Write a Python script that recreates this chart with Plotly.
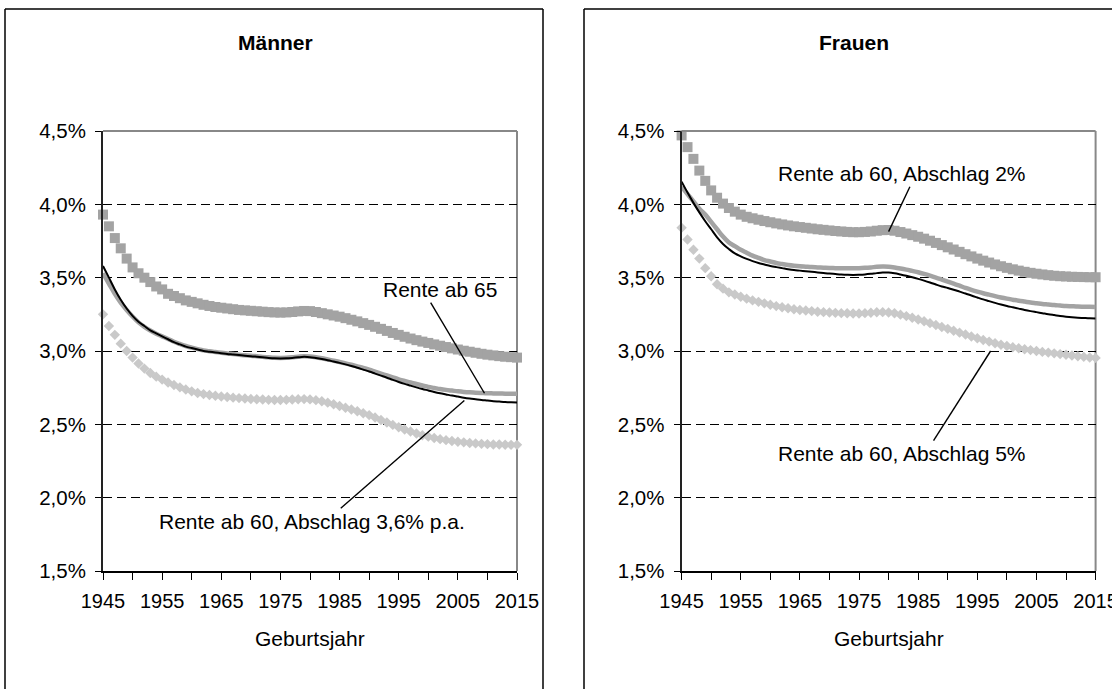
import plotly.graph_objects as go

W, H = 1112, 689

years = list(range(1945, 2016))

# ---- Männer ----
m_squares = [3.93, 3.85, 3.77, 3.70, 3.63, 3.57, 3.53, 3.50, 3.47, 3.44,
             3.42, 3.39, 3.375, 3.36, 3.345, 3.335, 3.325, 3.315, 3.307, 3.30,
             3.295, 3.29, 3.285, 3.28, 3.277, 3.274, 3.271, 3.268, 3.265, 3.263,
             3.262, 3.263, 3.266, 3.27, 3.273, 3.272, 3.266, 3.258, 3.25, 3.242,
             3.234, 3.224, 3.213, 3.202, 3.19, 3.178, 3.165, 3.151, 3.137, 3.123,
             3.11, 3.097, 3.085, 3.074, 3.064, 3.055, 3.045, 3.036, 3.027, 3.018,
             3.01, 3.002, 2.995, 2.988, 2.981, 2.975, 2.97, 2.965, 2.961, 2.958,
             2.955]
m_gray = [3.53, 3.46, 3.39, 3.33, 3.28, 3.235, 3.195, 3.165, 3.14, 3.118,
          3.10, 3.082, 3.063, 3.048, 3.034, 3.023, 3.013, 3.004, 2.998, 2.993,
          2.988, 2.983, 2.979, 2.975, 2.971, 2.968, 2.964, 2.96, 2.957, 2.954,
          2.953, 2.954, 2.957, 2.961, 2.964, 2.962, 2.957, 2.95, 2.942, 2.934,
          2.925, 2.916, 2.906, 2.895, 2.884, 2.872, 2.859, 2.846, 2.833, 2.82,
          2.807, 2.796, 2.785, 2.775, 2.765, 2.755, 2.748, 2.741, 2.735, 2.73,
          2.725, 2.721, 2.718, 2.716, 2.714, 2.712, 2.711, 2.71, 2.709, 2.708,
          2.708]
m_black = [3.58, 3.50, 3.42, 3.35, 3.29, 3.24, 3.20, 3.17, 3.14, 3.12,
           3.10, 3.08, 3.06, 3.045, 3.03, 3.02, 3.01, 3.00, 2.995, 2.99,
           2.985, 2.98, 2.976, 2.972, 2.968, 2.965, 2.961, 2.957, 2.953, 2.95,
           2.949, 2.95, 2.953, 2.957, 2.96, 2.958, 2.952, 2.945, 2.937, 2.928,
           2.919, 2.909, 2.898, 2.886, 2.873, 2.86, 2.846, 2.832, 2.818, 2.803,
           2.789, 2.776, 2.764, 2.752, 2.741, 2.731, 2.721, 2.712, 2.704, 2.696,
           2.689, 2.682, 2.676, 2.671, 2.666, 2.662, 2.658, 2.655, 2.652, 2.65,
           2.649]
m_diamonds = [3.25, 3.17, 3.11, 3.05, 3.00, 2.955, 2.915, 2.88, 2.85, 2.825,
              2.805, 2.785, 2.768, 2.752, 2.738, 2.725, 2.714, 2.706, 2.70, 2.695,
              2.69, 2.686, 2.682, 2.679, 2.676, 2.673, 2.671, 2.669, 2.667, 2.666,
              2.666, 2.667, 2.669, 2.671, 2.672, 2.67, 2.665, 2.657, 2.648, 2.637,
              2.625, 2.613, 2.601, 2.589, 2.576, 2.563, 2.547, 2.53, 2.513, 2.496,
              2.48, 2.465, 2.451, 2.438, 2.426, 2.416, 2.407, 2.399, 2.392, 2.386,
              2.381, 2.377, 2.373, 2.37, 2.367, 2.365, 2.363, 2.362, 2.361, 2.36,
              2.36]

# ---- Frauen ----
f_squares = [4.47, 4.39, 4.31, 4.23, 4.16, 4.095, 4.045, 4.005, 3.975, 3.95,
             3.93, 3.915, 3.905, 3.895, 3.886, 3.878, 3.87, 3.863, 3.856, 3.85,
             3.845, 3.84, 3.835, 3.83, 3.826, 3.822, 3.818, 3.815, 3.812, 3.81,
             3.81, 3.812, 3.815, 3.82, 3.824, 3.825, 3.82, 3.811, 3.801, 3.79,
             3.779, 3.766, 3.752, 3.737, 3.722, 3.707, 3.692, 3.676, 3.66, 3.645,
             3.63, 3.616, 3.603, 3.59, 3.578, 3.567, 3.557, 3.548, 3.54, 3.533,
             3.527, 3.522, 3.517, 3.513, 3.51, 3.508, 3.506, 3.505, 3.504, 3.503,
             3.503]
f_gray = [4.12, 4.07, 4.02, 3.97, 3.93, 3.88, 3.83, 3.78, 3.74, 3.715,
          3.69, 3.67, 3.65, 3.635, 3.62, 3.61, 3.60, 3.593, 3.587, 3.582,
          3.578, 3.575, 3.572, 3.57, 3.568, 3.566, 3.565, 3.564, 3.564, 3.564,
          3.565, 3.567, 3.57, 3.574, 3.576, 3.575, 3.57, 3.563, 3.555, 3.546,
          3.537, 3.526, 3.514, 3.501, 3.487, 3.473, 3.459, 3.445, 3.43, 3.417,
          3.405, 3.394, 3.384, 3.374, 3.365, 3.357, 3.35, 3.343, 3.337, 3.331,
          3.326, 3.321, 3.317, 3.313, 3.31, 3.307, 3.305, 3.303, 3.302, 3.301,
          3.30]
f_black = [4.155, 4.08, 4.01, 3.945, 3.885, 3.83, 3.775, 3.73, 3.695, 3.665,
           3.645, 3.628, 3.613, 3.60, 3.59, 3.58, 3.572, 3.565, 3.558, 3.552,
           3.548, 3.544, 3.54, 3.536, 3.532, 3.528, 3.525, 3.522, 3.52, 3.519,
           3.52, 3.522, 3.526, 3.531, 3.535, 3.535, 3.53, 3.522, 3.513, 3.503,
           3.492, 3.48, 3.467, 3.453, 3.44, 3.43, 3.418, 3.405, 3.392, 3.378,
           3.365, 3.352, 3.34, 3.328, 3.317, 3.307, 3.298, 3.289, 3.28, 3.272,
           3.265, 3.258, 3.251, 3.245, 3.239, 3.234, 3.23, 3.227, 3.225, 3.223,
           3.222]
f_diamonds = [3.84, 3.76, 3.69, 3.63, 3.565, 3.51, 3.455, 3.425, 3.40, 3.385,
              3.37, 3.357, 3.345, 3.335, 3.325, 3.315, 3.306, 3.298, 3.291, 3.285,
              3.28, 3.276, 3.272, 3.268, 3.265, 3.262, 3.26, 3.258, 3.257, 3.256,
              3.256, 3.258, 3.261, 3.264, 3.265, 3.263, 3.257, 3.248, 3.238, 3.227,
              3.215, 3.203, 3.19, 3.177, 3.164, 3.151, 3.138, 3.125, 3.112, 3.099,
              3.087, 3.075, 3.064, 3.053, 3.043, 3.034, 3.026, 3.019, 3.012, 3.006,
              3.0, 2.994, 2.989, 2.984, 2.979, 2.974, 2.969, 2.964, 2.96, 2.956,
              2.953]

y_tick_vals = [1.5, 2.0, 2.5, 3.0, 3.5, 4.0, 4.5]
y_tick_labels = ["1,5%", "2,0%", "2,5%", "3,0%", "3,5%", "4,0%", "4,5%"]
panel_titles = ["Männer", "Frauen"]
x_title = "Geburtsjahr"

# annotations: (text, text_x, text_y, line_from_x, line_from_y, line_to_x, line_to_y)
m_labels = [
    ("Rente ab 65", 2002.0, 3.42, 2000.4, 3.33, 2009.5, 2.712),
    ("Rente ab 60, Abschlag 3,6% p.a.", 1980.3, 1.835, 1985.2, 1.928, 2006.1, 2.662),
]
f_labels = [
    ("Rente ab 60, Abschlag 2%", 1982.3, 4.207, 1983.6, 4.12, 1980.0, 3.814),
    ("Rente ab 60, Abschlag 5%", 1982.3, 2.298, 1987.6, 2.389, 1997.25, 3.0),
]

FONT = "Liberation Sans, Arial, sans-serif"
SQ_COLOR = "#a3a3a3"
DI_COLOR = "#c9c9c9"
LN_GRAY = "#a3a3a3"

def px_x(p):
    return p / W

def px_y(p):
    return 1 - p / H

fig = go.Figure()

panels = [
    ("x", "y", m_squares, m_gray, m_black, m_diamonds, m_labels),
    ("x2", "y2", f_squares, f_gray, f_black, f_diamonds, f_labels),
]

for xa, ya, sq, gr, bl, di, labels in panels:
    fig.add_trace(go.Scatter(x=years, y=di, mode="markers", xaxis=xa, yaxis=ya,
                             marker=dict(symbol="diamond", size=8, color=DI_COLOR, line=dict(width=0)),
                             cliponaxis=False, showlegend=False))
    fig.add_trace(go.Scatter(x=years, y=sq, mode="markers", xaxis=xa, yaxis=ya,
                             marker=dict(symbol="square", size=10, color=SQ_COLOR, line=dict(width=0)),
                             cliponaxis=False, showlegend=False))
    fig.add_trace(go.Scatter(x=years, y=gr, mode="lines", xaxis=xa, yaxis=ya,
                             line=dict(color=LN_GRAY, width=4.5, shape="spline"),
                             showlegend=False))
    fig.add_trace(go.Scatter(x=years, y=bl, mode="lines", xaxis=xa, yaxis=ya,
                             line=dict(color="black", width=2, shape="spline"),
                             showlegend=False))
    for text, tx, ty, fx, fy, lx, ly in labels:
        fig.add_annotation(x=tx, y=ty, xref=xa, yref=ya, text=text, showarrow=False,
                           xanchor="center", yanchor="middle",
                           font=dict(family=FONT, size=21, color="black"))
        fig.add_shape(type="line", x0=fx, y0=fy, x1=lx, y1=ly, xref=xa, yref=ya,
                      line=dict(color="black", width=1.4))

axis_x_common = dict(range=[1945, 2015], tick0=1945, dtick=10, ticks="outside", ticklen=7,
                     tickwidth=1, tickcolor="black", showline=True, linecolor="black",
                     linewidth=1.5, showgrid=False, zeroline=False, automargin=False,
                     ticklabelstandoff=4, ticklabeloverflow="allow",
                     tickfont=dict(family=FONT, size=20, color="black"),
                     minor=dict(dtick=5, tick0=1945, ticks="outside", ticklen=7, tickcolor="black",
                                tickwidth=1, showgrid=False))
axis_y_common = dict(range=[1.5, 4.5], tickvals=y_tick_vals, ticktext=y_tick_labels,
                     ticks="outside", ticklen=6, tickwidth=1, tickcolor="black",
                     showline=True, linecolor="#222222", linewidth=2,
                     showgrid=True, gridcolor="black", gridwidth=1, griddash="9px,5px",
                     zeroline=False, automargin=False, ticklabelstandoff=5,
                     ticklabeloverflow="allow",
                     tickfont=dict(family=FONT, size=20.5, color="black"))

ydom = [px_y(571), px_y(131)]
fig.update_layout(
    width=W, height=H, margin=dict(l=0, r=0, t=0, b=0, autoexpand=False),
    paper_bgcolor="white", plot_bgcolor="white",
    xaxis=dict(domain=[px_x(103), px_x(517)], anchor="y", **axis_x_common),
    yaxis=dict(domain=ydom, anchor="x", **axis_y_common),
    xaxis2=dict(domain=[px_x(681.6), px_x(1095.6)], anchor="y2", **axis_x_common),
    yaxis2=dict(domain=ydom, anchor="x2", **axis_y_common),
    font=dict(family=FONT, color="black"),
)

# plot-area frame (top and right, gray)
for xa, ya in [("x", "y"), ("x2", "y2")]:
    fig.add_shape(type="line", xref=f"{xa} domain", yref=f"{ya} domain", x0=0, y0=1, x1=1, y1=1,
                  line=dict(color="#888888", width=2), layer="above")
    fig.add_shape(type="line", xref=f"{xa} domain", yref=f"{ya} domain", x0=1, y0=0, x1=1, y1=1,
                  line=dict(color="#888888", width=2), layer="below")

# panel titles and axis titles
for title, cx, xa in [(panel_titles[0], 275, "x"), (panel_titles[1], 854, "x2")]:
    fig.add_annotation(x=px_x(cx), y=px_y(42), xref="paper", yref="paper", text=f"<b>{title}</b>",
                       showarrow=False, xanchor="center", yanchor="middle",
                       font=dict(family=FONT, size=21, color="black"))
    fig.add_annotation(x=0.5, y=px_y(638), xref=f"{xa} domain", yref="paper", text=x_title,
                       showarrow=False, xanchor="center", yanchor="middle",
                       font=dict(family=FONT, size=21, color="black"))

# outer chart borders
border = dict(color="black", width=1.5)
fig.add_shape(type="line", xref="paper", yref="paper", x0=px_x(5), y0=px_y(9), x1=px_x(543), y1=px_y(9), line=border)
fig.add_shape(type="line", xref="paper", yref="paper", x0=px_x(5), y0=px_y(9), x1=px_x(5), y1=0, line=border)
fig.add_shape(type="line", xref="paper", yref="paper", x0=px_x(543), y0=px_y(9), x1=px_x(543), y1=0, line=border)
fig.add_shape(type="line", xref="paper", yref="paper", x0=px_x(584), y0=px_y(9), x1=1, y1=px_y(9), line=border)
fig.add_shape(type="line", xref="paper", yref="paper", x0=px_x(584), y0=px_y(9), x1=px_x(584), y1=0, line=border)

fig.write_html("out.html",
               config={"displayModeBar": False},
               post_script="document.body.style.margin='0';document.body.style.padding='0';")
